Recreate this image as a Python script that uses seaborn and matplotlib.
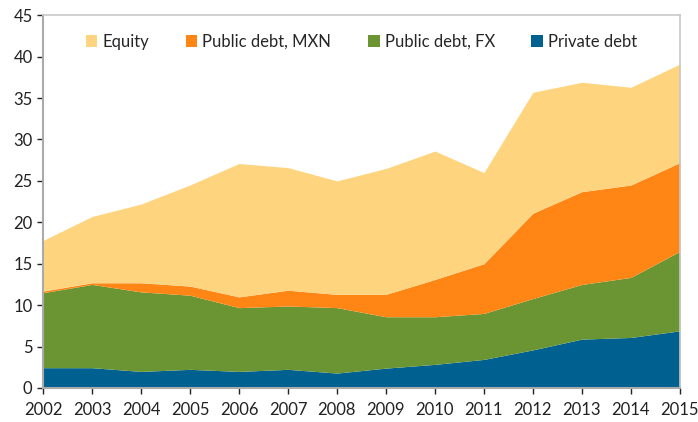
import pandas as pd
import matplotlib.pyplot as plt
import seaborn as sns

# Values (stacked, bottom to top)
years = list(range(2002, 2016))
private_debt = [2.45, 2.45, 2.0, 2.25, 2.0, 2.25, 1.8, 2.4, 2.85, 3.45, 4.6, 5.9, 6.1, 6.9]
public_fx = [9.05, 10.05, 9.6, 8.95, 7.7, 7.65, 7.9, 6.2, 5.75, 5.55, 6.2, 6.6, 7.25, 9.6]
public_mxn = [0.2, 0.2, 1.1, 1.1, 1.3, 1.9, 1.6, 2.7, 4.5, 6.0, 10.3, 11.2, 11.15, 10.7]
equity = [6.1, 8.0, 9.5, 12.2, 16.1, 14.8, 13.7, 15.2, 15.5, 11.0, 14.6, 13.2, 11.8, 11.9]

labels = ['Private debt', 'Public debt, FX', 'Public debt, MXN', 'Equity']
colors = ['#00608F', '#6B9532', '#FF8515', '#FFD47F']

sns.set_style('white')
plt.rcParams['font.family'] = ['Lato', 'DejaVu Sans']

df = pd.DataFrame({'Year': years, 'Private debt': private_debt,
                   'Public debt, FX': public_fx, 'Public debt, MXN': public_mxn,
                   'Equity': equity})

fig = plt.figure(figsize=(6.98, 4.22), dpi=100)
ax = fig.add_axes([0.0616, 0.0806, 0.9124, 0.8834])
polys = ax.stackplot(df['Year'], [df[c] for c in labels], labels=labels,
                     colors=colors, linewidth=0)

ax.set_xlim(2002, 2015)
ax.set_ylim(0, 45)
ax.set_xticks(years)
ax.set_yticks(range(0, 50, 5))
ax.tick_params(axis='both', labelsize=12, colors='#222222', length=4,
               width=1, direction='out', left=True, bottom=True)
for t in ax.get_xticklines() + ax.get_yticklines():
    t.set_color('#AAAAAA')
ax.tick_params(axis='x', pad=6)
for s in ax.spines.values():
    s.set_color('#C8C8C8')
    s.set_linewidth(1.2)
for s in ['left', 'bottom']:
    ax.spines[s].set_color('#AAAAAA')
    ax.spines[s].set_linewidth(1.5)

handles, lbls = ax.get_legend_handles_labels()
order = [3, 2, 1, 0]
ax.legend([handles[i] for i in order], [lbls[i] for i in order],
          loc='upper center', bbox_to_anchor=(0.5, 0.99), ncol=4, frameon=False,
          fontsize=12, handlelength=0.7, handleheight=0.7, handletextpad=0.3,
          columnspacing=2.2)

fig.savefig('out.png', dpi=100)
